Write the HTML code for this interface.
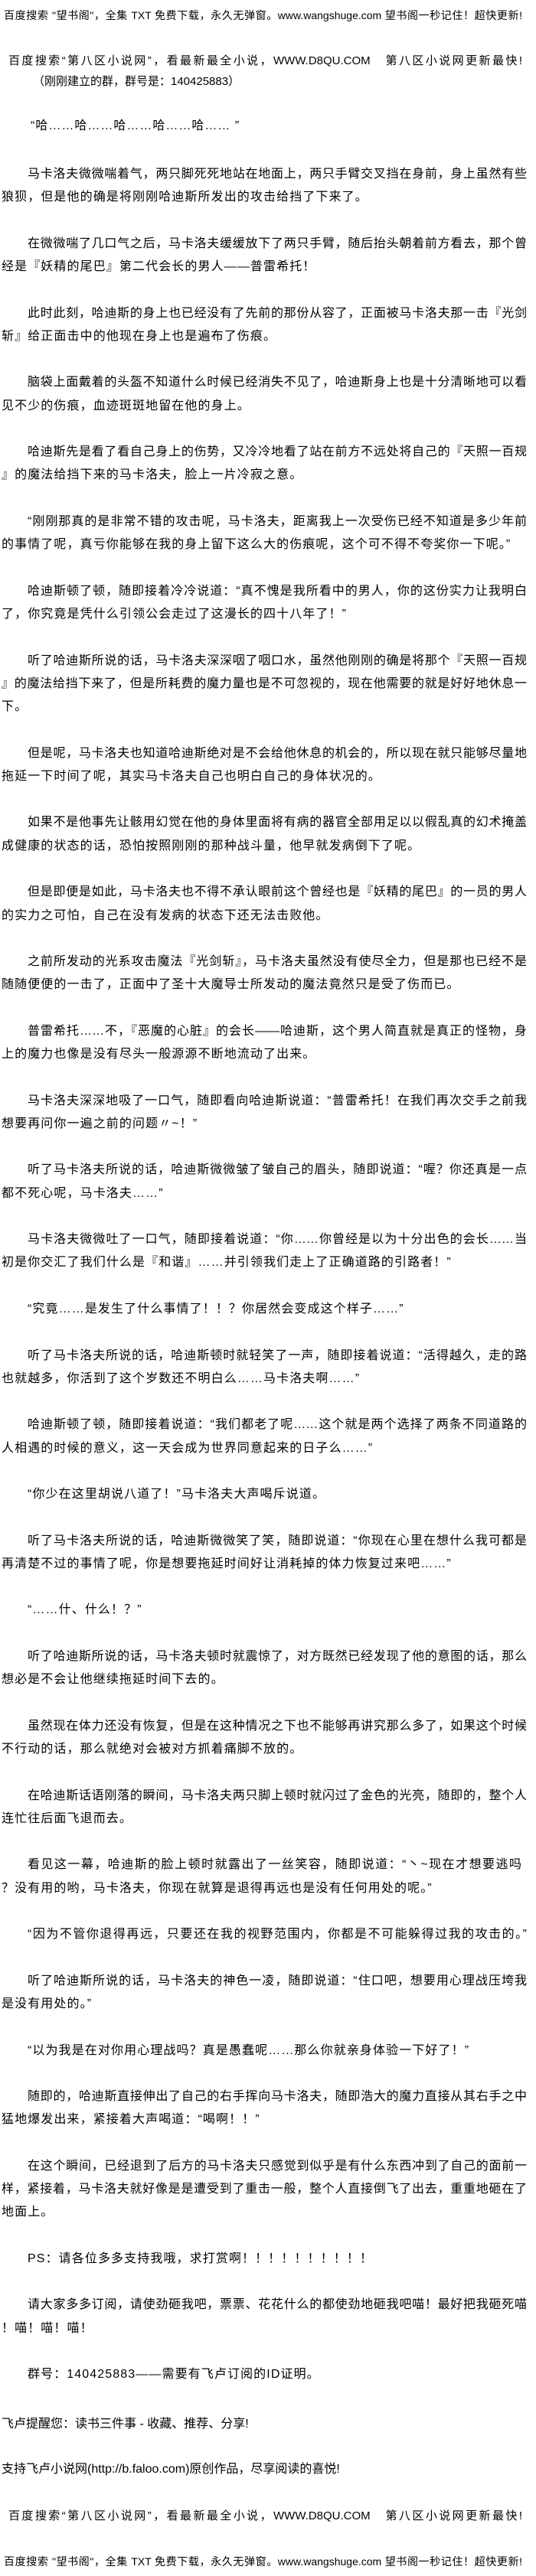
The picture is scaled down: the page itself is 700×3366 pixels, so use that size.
<!DOCTYPE html>
<html><head><meta charset="utf-8">
<style>
html,body{margin:0;padding:0;background:#fff;}
body{width:700px;height:3366px;position:relative;overflow:hidden;color:#000;
font-family:"Liberation Sans","Noto Sans CJK SC",sans-serif;font-size:16px;}
.abs{position:absolute;white-space:nowrap;line-height:30px;}
#main{position:absolute;left:0;top:213px;width:688px;line-height:30.28px;}
#main div{height:30.28px;white-space:nowrap;padding-left:2px;letter-spacing:1.1px;}
#main div.i{padding-left:36px;}
#main div.j{text-align:justify;text-align-last:justify;white-space:nowrap;letter-spacing:0;}
.hj{text-align:justify;text-align-last:justify;}
</style></head><body>
<div class="abs hj" style="left:5px;top:5px;width:677px;font-size:14px;">百度搜索 "望书阁"，全集 TXT 免费下载，永久无弹窗。www.wangshuge.com 望书阁一秒记住！超快更新!</div>
<div class="abs hj" style="left:11px;top:65px;width:671px;font-size:15px;">百度搜索“第八区小说网”，看最新最全小说，WWW.D8QU.COM　第八区小说网更新最快!</div>
<div class="abs" style="left:43px;top:92px;font-size:15px;">（刚刚建立的群，群号是：140425883）</div>
<div class="abs" style="left:40px;top:150px;font-size:16px;letter-spacing:1px;">“哈……哈……哈……哈……哈…… ”</div>

<div id="main">
<div class="i j">马卡洛夫微微喘着气，两只脚死死地站在地面上，两只手臂交叉挡在身前，身上虽然有些</div>
<div>狼狈，但是他的确是将刚刚哈迪斯所发出的攻击给挡了下来了。</div>
<div></div>
<div class="i j">在微微喘了几口气之后，马卡洛夫缓缓放下了两只手臂，随后抬头朝着前方看去，那个曾</div>
<div>经是『妖精的尾巴』第二代会长的男人——普雷希托！</div>
<div></div>
<div class="i j">此时此刻，哈迪斯的身上也已经没有了先前的那份从容了，正面被马卡洛夫那一击『光剑</div>
<div>斩』给正面击中的他现在身上也是遍布了伤痕。</div>
<div></div>
<div class="i j">脑袋上面戴着的头盔不知道什么时候已经消失不见了，哈迪斯身上也是十分清晰地可以看</div>
<div>见不少的伤痕，血迹斑斑地留在他的身上。</div>
<div></div>
<div class="i j">哈迪斯先是看了看自己身上的伤势，又冷冷地看了站在前方不远处将自己的『天照一百规</div>
<div>』的魔法给挡下来的马卡洛夫，脸上一片冷寂之意。</div>
<div></div>
<div class="i j">“刚刚那真的是非常不错的攻击呢，马卡洛夫，距离我上一次受伤已经不知道是多少年前</div>
<div>的事情了呢，真亏你能够在我的身上留下这么大的伤痕呢，这个可不得不夸奖你一下呢。”</div>
<div></div>
<div class="i j">哈迪斯顿了顿，随即接着冷冷说道：“真不愧是我所看中的男人，你的这份实力让我明白</div>
<div>了，你究竟是凭什么引领公会走过了这漫长的四十八年了！”</div>
<div></div>
<div class="i j">听了哈迪斯所说的话，马卡洛夫深深咽了咽口水，虽然他刚刚的确是将那个『天照一百规</div>
<div class="j">』的魔法给挡下来了，但是所耗费的魔力量也是不可忽视的，现在他需要的就是好好地休息一</div>
<div>下。</div>
<div></div>
<div class="i j">但是呢，马卡洛夫也知道哈迪斯绝对是不会给他休息的机会的，所以现在就只能够尽量地</div>
<div>拖延一下时间了呢，其实马卡洛夫自己也明白自己的身体状况的。</div>
<div></div>
<div class="i j">如果不是他事先让骸用幻觉在他的身体里面将有病的器官全部用足以以假乱真的幻术掩盖</div>
<div>成健康的状态的话，恐怕按照刚刚的那种战斗量，他早就发病倒下了呢。</div>
<div></div>
<div class="i j">但是即便是如此，马卡洛夫也不得不承认眼前这个曾经也是『妖精的尾巴』的一员的男人</div>
<div>的实力之可怕，自己在没有发病的状态下还无法击败他。</div>
<div></div>
<div class="i j">之前所发动的光系攻击魔法『光剑斩』，马卡洛夫虽然没有使尽全力，但是那也已经不是</div>
<div>随随便便的一击了，正面中了圣十大魔导士所发动的魔法竟然只是受了伤而已。</div>
<div></div>
<div class="i j">普雷希托……不，『恶魔的心脏』的会长——哈迪斯，这个男人简直就是真正的怪物，身</div>
<div>上的魔力也像是没有尽头一般源源不断地流动了出来。</div>
<div></div>
<div class="i j">马卡洛夫深深地吸了一口气，随即看向哈迪斯说道：“普雷希托！在我们再次交手之前我</div>
<div>想要再问你一遍之前的问题〃~！”</div>
<div></div>
<div class="i j">听了马卡洛夫所说的话，哈迪斯微微皱了皱自己的眉头，随即说道：“喔？你还真是一点</div>
<div>都不死心呢，马卡洛夫……”</div>
<div></div>
<div class="i j">马卡洛夫微微吐了一口气，随即接着说道：“你……你曾经是以为十分出色的会长……当</div>
<div>初是你交汇了我们什么是『和谐』……并引领我们走上了正确道路的引路者！”</div>
<div></div>
<div class="i">“究竟……是发生了什么事情了！！？你居然会变成这个样子……”</div>
<div></div>
<div class="i j">听了马卡洛夫所说的话，哈迪斯顿时就轻笑了一声，随即接着说道：“活得越久，走的路</div>
<div>也就越多，你活到了这个岁数还不明白么……马卡洛夫啊……”</div>
<div></div>
<div class="i j">哈迪斯顿了顿，随即接着说道：“我们都老了呢……这个就是两个选择了两条不同道路的</div>
<div>人相遇的时候的意义，这一天会成为世界同意起来的日子么……”</div>
<div></div>
<div class="i">“你少在这里胡说八道了！”马卡洛夫大声喝斥说道。</div>
<div></div>
<div class="i j">听了马卡洛夫所说的话，哈迪斯微微笑了笑，随即说道：“你现在心里在想什么我可都是</div>
<div>再清楚不过的事情了呢，你是想要拖延时间好让消耗掉的体力恢复过来吧……”</div>
<div></div>
<div class="i">“……什、什么！？”</div>
<div></div>
<div class="i j">听了哈迪斯所说的话，马卡洛夫顿时就震惊了，对方既然已经发现了他的意图的话，那么</div>
<div>想必是不会让他继续拖延时间下去的。</div>
<div></div>
<div class="i j">虽然现在体力还没有恢复，但是在这种情况之下也不能够再讲究那么多了，如果这个时候</div>
<div>不行动的话，那么就绝对会被对方抓着痛脚不放的。</div>
<div></div>
<div class="i j">在哈迪斯话语刚落的瞬间，马卡洛夫两只脚上顿时就闪过了金色的光亮，随即的，整个人</div>
<div>连忙往后面飞退而去。</div>
<div></div>
<div class="i j" style="width:645px;">看见这一幕，哈迪斯的脸上顿时就露出了一丝笑容，随即说道：“丶~现在才想要逃吗</div>
<div>？没有用的哟，马卡洛夫，你现在就算是退得再远也是没有任何用处的呢。”</div>
<div></div>
<div class="i j">“因为不管你退得再远，只要还在我的视野范围内，你都是不可能躲得过我的攻击的。”</div>
<div></div>
<div class="i j">听了哈迪斯所说的话，马卡洛夫的神色一凌，随即说道：“住口吧，想要用心理战压垮我</div>
<div>是没有用处的。”</div>
<div></div>
<div class="i">“以为我是在对你用心理战吗？真是愚蠢呢……那么你就亲身体验一下好了！”</div>
<div></div>
<div class="i j">随即的，哈迪斯直接伸出了自己的右手挥向马卡洛夫，随即浩大的魔力直接从其右手之中</div>
<div>猛地爆发出来，紧接着大声喝道：“喝啊！！”</div>
<div></div>
<div class="i j">在这个瞬间，已经退到了后方的马卡洛夫只感觉到似乎是有什么东西冲到了自己的面前一</div>
<div class="j">样，紧接着，马卡洛夫就好像是是遭受到了重击一般，整个人直接倒飞了出去，重重地砸在了</div>
<div>地面上。</div>
<div></div>
<div class="i">PS：请各位多多支持我哦，求打赏啊！！！！！！！！！！</div>
<div></div>
<div class="i j">请大家多多订阅，请使劲砸我吧，票票、花花什么的都使劲地砸我吧喵！最好把我砸死喵</div>
<div>！喵！喵！喵！</div>
<div></div>
<div class="i">群号：140425883——需要有飞卢订阅的ID证明。</div>
</div>

<div class="abs" style="left:2px;top:3153px;font-size:16px;">飞卢提醒您：读书三件事 - 收藏、推荐、分享!</div>
<div class="abs" style="left:2px;top:3212px;font-size:16px;">支持飞卢小说网(http://b.faloo.com)原创作品，尽享阅读的喜悦!</div>
<div class="abs hj" style="left:11px;top:3273px;width:671px;font-size:15px;">百度搜索“第八区小说网”，看最新最全小说，WWW.D8QU.COM　第八区小说网更新最快!</div>
<div class="abs hj" style="left:5px;top:3332px;width:677px;font-size:14px;">百度搜索 "望书阁"，全集 TXT 免费下载，永久无弹窗。www.wangshuge.com 望书阁一秒记住！超快更新!</div>
</body></html>
